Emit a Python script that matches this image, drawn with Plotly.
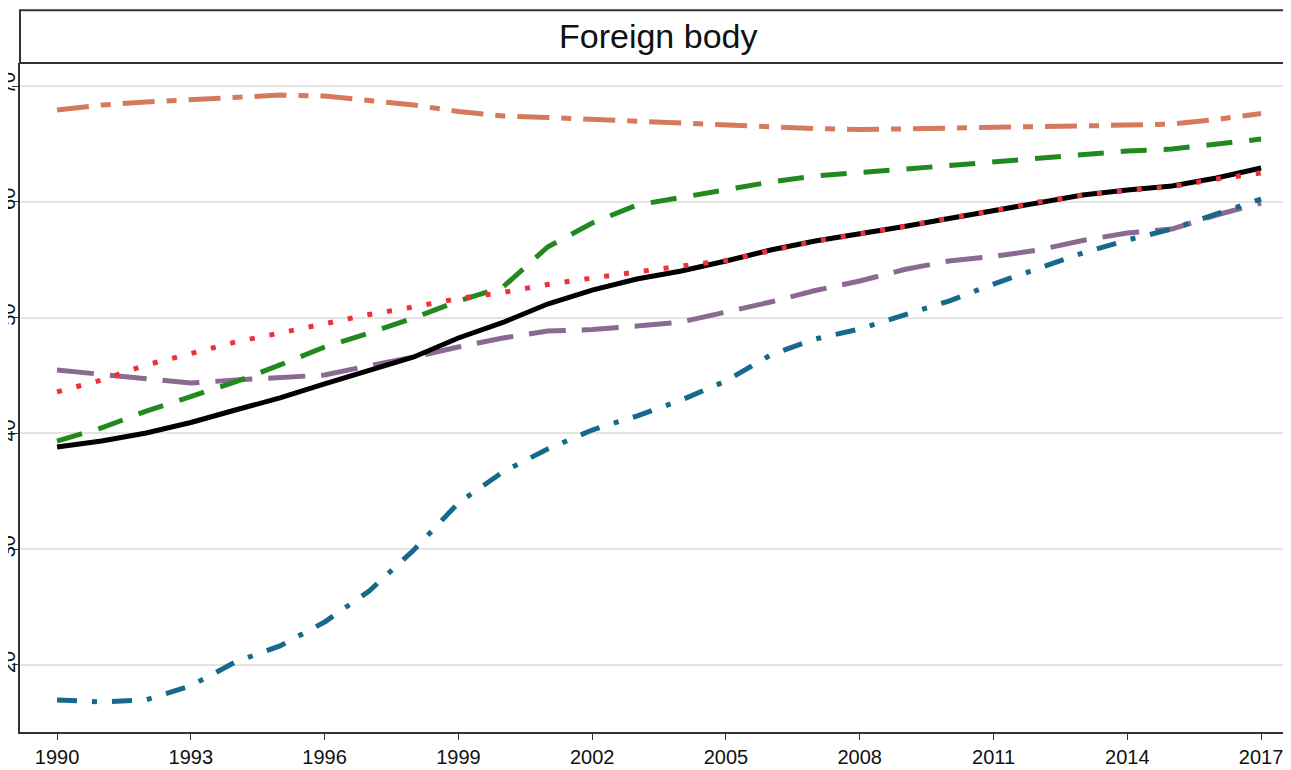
import plotly.graph_objects as go

# Anni e serie
years = list(range(1990, 2018))

orange = [67.93, 68.36, 68.62, 68.79, 68.96, 69.22, 69.14, 68.79, 68.36, 67.80,
          67.41, 67.28, 67.11, 66.93, 66.80, 66.63, 66.46, 66.33, 66.24, 66.33,
          66.42, 66.46, 66.50, 66.55, 66.63, 66.72, 67.11, 67.63]
green = [39.34, 40.47, 41.93, 43.14, 44.44, 45.91, 47.46, 48.67, 49.97, 51.43,
         52.64, 56.10, 58.17, 59.72, 60.41, 61.02, 61.71, 62.23, 62.57, 62.83,
         63.13, 63.44, 63.78, 64.13, 64.39, 64.56, 64.99, 65.42]
black = [38.83, 39.34, 40.03, 40.94, 42.02, 43.06, 44.27, 45.39, 46.60, 48.24,
         49.58, 51.17, 52.38, 53.33, 54.02, 54.89, 55.84, 56.61, 57.22, 57.87,
         58.56, 59.25, 59.98, 60.59, 61.02, 61.36, 62.06, 62.92]
red = [43.58, 44.61, 45.91, 46.90, 47.89, 48.67, 49.49, 50.27, 50.92, 51.65,
       52.17, 52.86, 53.42, 53.98, 54.46, 54.93, 55.79, 56.61, 57.22, 57.87,
       58.56, 59.25, 59.98, 60.59, 60.98, 61.32, 61.97, 62.49]
purple = [45.47, 45.13, 44.74, 44.35, 44.61, 44.87, 45.04, 45.85, 46.60, 47.46,
          48.24, 48.84, 48.97, 49.27, 49.62, 50.48, 51.35, 52.34, 53.16, 54.15,
          54.89, 55.28, 55.84, 56.66, 57.31, 57.65, 58.86, 59.90]
teal = [16.98, 16.80, 16.98, 18.19, 20.26, 21.64, 23.71, 26.39, 29.93, 33.99,
        36.67, 38.65, 40.29, 41.50, 42.88, 44.53, 46.77, 48.15, 49.02, 50.22,
        51.43, 52.90, 54.28, 55.58, 56.70, 57.65, 58.95, 60.24]

x_ticks = list(range(1990, 2018, 3))
y_ticks = [20, 30, 40, 50, 60, 70]

series = [
    (purple, '#8a6a90', '37px,16px'),
    (teal, '#16698a', '20px,15px,5px,15px'),
    (orange, '#d57a5c', '32px,12px,10px,12px'),
    (green, '#22891f', '26px,17px'),
    (black, '#000000', 'solid'),
    (red, '#ec3236', '5px,15px'),
]

fig = go.Figure()

for values, color, dash in series:
    fig.add_trace(go.Scatter(
        x=years,
        y=values,
        mode='lines',
        line=dict(color=color, width=5, dash=dash),
        showlegend=False,
        hoverinfo='skip'
    ))

# Riquadro del titolo (la pagina sposta la figura di 8px)
fig.add_shape(type='rect', xref='paper', yref='paper',
              x0=0, x1=1.05, y0=1, y1=1.079,
              line=dict(color='#333333', width=2), fillcolor='white')
fig.add_annotation(text='Foreign body', xref='paper', yref='paper',
                   x=0.502, y=1.040, xanchor='center', yanchor='middle',
                   showarrow=False,
                   font=dict(family='Arial, Liberation Sans', size=34, color='#111111'))

fig.update_layout(
    width=1283,
    height=770,
    margin=dict(l=12, r=0, t=55, b=46),
    paper_bgcolor='white',
    plot_bgcolor='white',
    font=dict(family='Arial, Liberation Sans', color='#111111'),
    xaxis=dict(
        range=[1989.17, 2017.67],
        tickvals=x_ticks,
        ticks='outside',
        ticklen=6,
        tickcolor='#333333',
        showgrid=False,
        showline=True,
        linecolor='#333333',
        linewidth=2,
        zeroline=False,
        tickfont=dict(size=20),
        automargin=False,
    ),
    yaxis=dict(
        range=[14.21, 71.99],
        tickvals=y_ticks,
        ticks='outside',
        ticklen=6,
        tickcolor='#333333',
        tickangle=-90,
        ticklabelstandoff=-11,
        showgrid=True,
        gridcolor='#e4e4e4',
        gridwidth=2,
        showline=True,
        linecolor='#333333',
        linewidth=2,
        zeroline=False,
        automargin=False,
        tickfont=dict(size=20),
    ),
)

fig.write_html("out.html")
